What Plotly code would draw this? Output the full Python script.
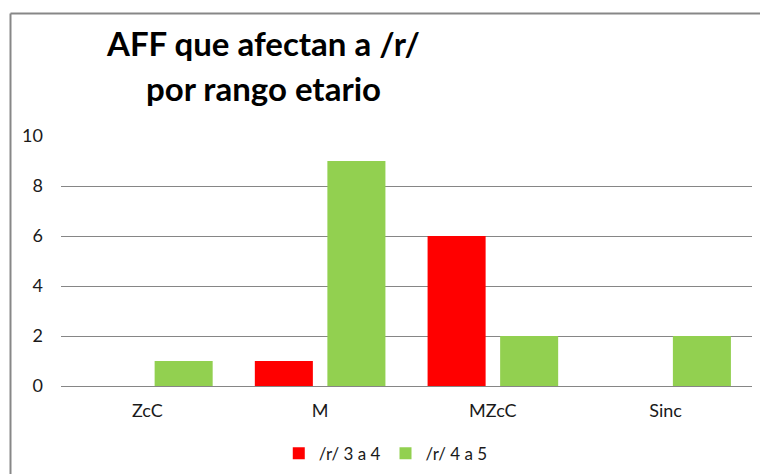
import plotly.graph_objects as go

categories = ["ZcC", "M", "MZcC", "Sinc"]
serie_3a4 = [0, 1, 6, 0]
serie_4a5 = [1, 9, 2, 2]
series_names = ["/r/ 3 a 4", "/r/ 4 a 5"]
y_ticks = [0, 2, 4, 6, 8, 10]
title_lines = ["AFF que afectan a /r/", "por rango etario"]

font_family = "Lato, 'Open Sans', sans-serif"

fig = go.Figure()
fig.add_trace(go.Bar(x=categories, y=serie_3a4, name=series_names[0],
                     marker=dict(color="#FF0000", line=dict(width=0))))
fig.add_trace(go.Bar(x=categories, y=serie_4a5, name=series_names[1],
                     marker=dict(color="#92D050", line=dict(width=0))))

# the captured picture is vertically squeezed slightly; compensate
VS = 480 / 474
W, H = 760, 480
L = 61
R = W - 752
T = round(134.5 * VS)
B = H - round(385 * VS)
pw = W - L - R
ph = H - T - B

def px_x(sx):
    return (sx - L) / pw

def px_y(sy):
    return (H - B - sy * VS) / ph

fig.update_layout(
    width=W, height=H,
    margin=dict(l=L, r=R, t=T, b=B, pad=0),
    paper_bgcolor="white", plot_bgcolor="white",
    barmode="group", bargap=0.16, bargroupgap=0.2,
    font=dict(family=font_family, size=17, color="#1a1a1a"),
    showlegend=True,
    legend=dict(orientation="h", x=0.47, xanchor="center",
                y=px_y(453), yanchor="middle",
                font=dict(size=17, color="#1a1a1a"),
                itemwidth=30, traceorder="normal"),
    xaxis=dict(showgrid=False, showline=True, linecolor="#868686", linewidth=1,
               ticks="", tickfont=dict(size=18), ticklabelstandoff=8),
    yaxis=dict(range=[0, 10], tickvals=y_ticks, showgrid=True,
               gridcolor="#868686", gridwidth=1, zeroline=False,
               showline=False, ticks="", tickfont=dict(size=18),
               ticklabelstandoff=17),
    annotations=[
        dict(text="<b>" + title_lines[0] + "</b>",
             xref="paper", yref="paper", x=px_x(263), y=px_y(40.5),
             xanchor="center", yanchor="middle", showarrow=False,
             font=dict(size=33, family=font_family, color="#000000")),
        dict(text="<b>" + title_lines[1] + "</b>",
             xref="paper", yref="paper", x=px_x(263), y=px_y(86.5),
             xanchor="center", yanchor="middle", showarrow=False,
             font=dict(size=33, family=font_family, color="#000000")),
    ],
    shapes=[
        dict(type="line", xref="paper", yref="paper",
             x0=px_x(10.5), x1=px_x(10.5), y0=px_y(11.5), y1=px_y(490),
             line=dict(color="#878787", width=2)),
        dict(type="line", xref="paper", yref="paper",
             x0=px_x(10.5), x1=px_x(790), y0=px_y(11.5), y1=px_y(11.5),
             line=dict(color="#878787", width=2)),
    ],
)

fig.write_html(
    "out.html",
    config={"displayModeBar": False},
    post_script=("document.documentElement.style.margin='0';"
                 "document.body.style.margin='0';"
                 "document.body.style.overflow='hidden';"),
)
